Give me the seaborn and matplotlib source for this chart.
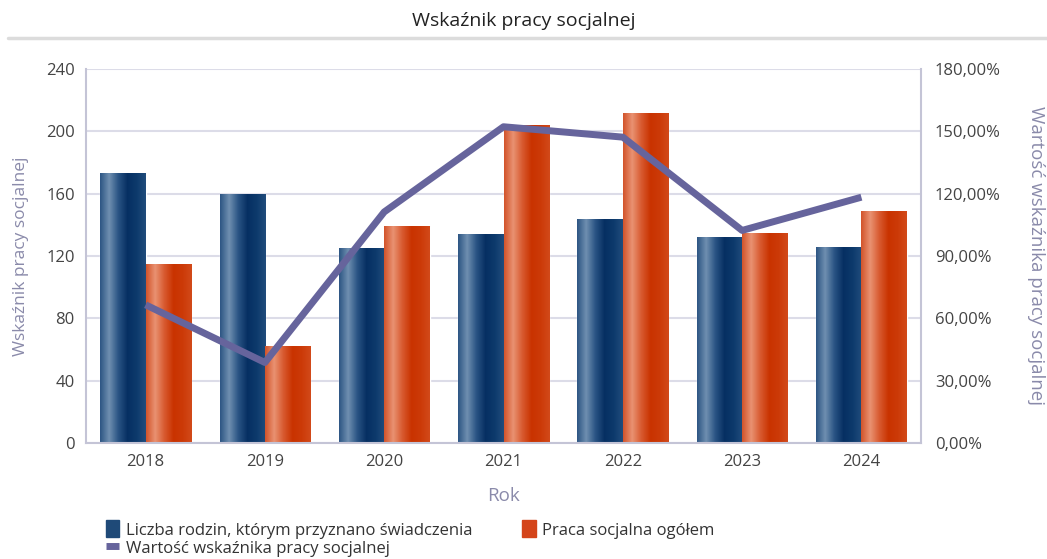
import numpy as np
import pandas as pd
import matplotlib.pyplot as plt
import seaborn as sns
from matplotlib.colors import LinearSegmentedColormap
from matplotlib.patches import Rectangle
from matplotlib.lines import Line2D

years = ['2018', '2019', '2020', '2021', '2022', '2023', '2024']
rodziny = [173, 160, 125, 134, 144, 132, 126]
praca = [115, 62, 139, 204, 212, 135, 149]
wskaznik = [66.5, 38.75, 111.2, 152.2, 147.2, 102.3, 118.3]

lbl_a = 'Liczba rodzin, którym przyznano świadczenia'
lbl_b = 'Praca socjalna ogółem'
lbl_c = 'Wartość wskaźnika pracy socjalnej'

sns.set_theme(style='white')
plt.rcParams['font.family'] = ['Open Sans', 'DejaVu Sans']

df = pd.DataFrame({'Rok': years * 2,
                   'Wartosc': rodziny + praca,
                   'Seria': [lbl_a] * len(years) + [lbl_b] * len(years)})

fig = plt.figure(figsize=(10.47, 5.59), dpi=100)
ax = fig.add_axes([0.0821, 0.2075, 0.7976, 0.6691])

blue_mid = '#1f4a78'
orange_mid = '#d4441a'
sns.barplot(data=df, x='Rok', y='Wartosc', hue='Seria', ax=ax,
            palette=[blue_mid, orange_mid], width=0.76, gap=0,
            saturation=1, legend=False, zorder=2)

# gradient fill for bars
cm_blue = LinearSegmentedColormap.from_list('b', ['#2c5583', '#6f8fb0', '#2a5484', '#062f62', '#0d3a6c', '#214c7c'])
cm_orange = LinearSegmentedColormap.from_list('o', ['#d2532a', '#e99272', '#d85a30', '#c93300', '#cc3a08', '#d24a1a'])
grad = np.linspace(0, 1, 256).reshape(1, -1)
n = len(years)
for i, p in enumerate(ax.patches[:2 * n]):
    x0, y0 = p.get_x(), p.get_y()
    w, h = p.get_width(), p.get_height()
    cm = cm_blue if i < n else cm_orange
    im = ax.imshow(grad, extent=[x0, x0 + w, y0, y0 + h], aspect='auto',
                   cmap=cm, zorder=2.5, interpolation='bilinear')
    im.set_clip_path(p)

ax.set_xlim(-0.5, n - 0.5)
ax.set_ylim(0, 240)
ax.set_yticks(range(0, 241, 40))
ax.grid(axis='y', color='#dcdce8', linewidth=1.5, zorder=0)
ax.set_axisbelow(True)

spine_c = '#c4c4d6'
for s in ['left', 'bottom']:
    ax.spines[s].set_color(spine_c)
    ax.spines[s].set_linewidth(1.5)
ax.spines['top'].set_visible(False)
ax.spines['right'].set_visible(False)
ax.tick_params(axis='both', length=0, labelsize=12, colors='#444444', pad=8)
ax.set_xlabel('Rok', fontsize=13.5, color='#8a8aaa', labelpad=12)
ax.set_ylabel('Wskaźnik pracy socjalnej', fontsize=12.5, color='#8a8aaa', labelpad=12)

ax2 = ax.twinx()
sns.lineplot(x=np.arange(n), y=wskaznik, ax=ax2, color='#66649c',
             linewidth=5, zorder=3, solid_capstyle='butt')
ax2.set_ylim(0, 180)
ax2.set_yticks(range(0, 181, 30))
ax2.set_yticklabels([f'{v},00%' for v in range(0, 181, 30)])
ax2.set_xlim(-0.5, n - 0.5)
for s in ['left', 'top', 'bottom']:
    ax2.spines[s].set_visible(False)
ax2.spines['right'].set_color(spine_c)
ax2.spines['right'].set_linewidth(1.5)
ax2.tick_params(axis='y', length=0, labelsize=12, colors='#444444', pad=10)
ax2.set_ylabel(lbl_c, fontsize=13.5, color='#8a8aaa', rotation=270, labelpad=32)

fig.text(0.5, 0.963, 'Wskaźnik pracy socjalnej', ha='center', va='center',
         fontsize=14, color='#222222')
fig.add_artist(Line2D([0.008, 1.0], [0.932, 0.932], color='#dcdcdc', linewidth=2.5))

handles = [Rectangle((0, 0), 1, 1, color='#1f4a78'),
           Line2D([], [], color='#66649c', linewidth=5, solid_capstyle='butt'),
           Rectangle((0, 0), 1, 1, color='#d4441a')]
fig.legend(handles, [lbl_a, lbl_c, lbl_b], loc='upper left',
           bbox_to_anchor=(0.093, 0.084), ncol=2, frameon=False,
           fontsize=12, handlelength=0.8, handleheight=1.2,
           handletextpad=0.4, columnspacing=3.0, labelspacing=0.0,
           borderpad=0, labelcolor='#333333')

fig.savefig('out.png', dpi=100)
